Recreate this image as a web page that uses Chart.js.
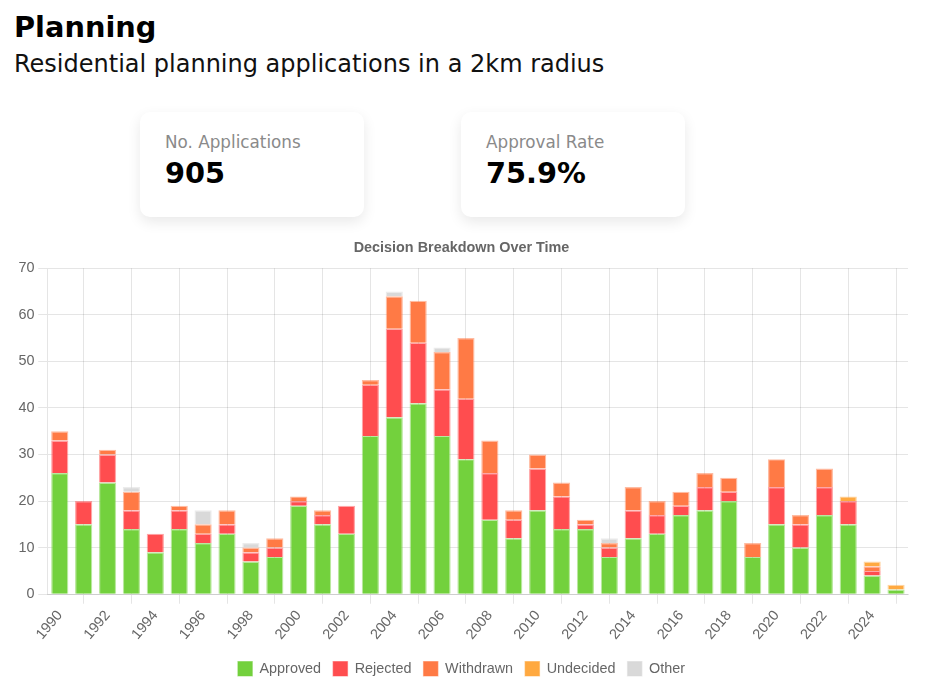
<!DOCTYPE html>
<html>
<head>
<meta charset="utf-8">
<script src="https://cdn.jsdelivr.net/npm/chart.js@4.4.1/dist/chart.umd.min.js"></script>
<style>
  html, body { margin: 0; padding: 0; background: #fff; width: 932px; height: 679px; overflow: hidden; }
  body { font-family: "DejaVu Sans", sans-serif; position: relative; }
  .h1 { position: absolute; left: 14px; top: 12.6px; margin: 0; font-size: 28.8px; line-height: 28.8px; font-weight: bold; color: #000; white-space: nowrap; }
  .sub { position: absolute; left: 14px; top: 51.7px; margin: 0; font-size: 24px; line-height: 24px; color: #111; white-space: nowrap; }
  .card { position: absolute; top: 112px; width: 224px; height: 105px; background: #fff; border-radius: 10px;
          box-shadow: 0 5px 14px rgba(0,0,0,0.09); }
  .card .lbl { position: absolute; left: 25px; top: 21.8px; font-size: 16.8px; line-height: 16.8px; color: #8a8a8a; white-space: nowrap; }
  .card .val { position: absolute; left: 25px; top: 46.6px; font-size: 28.8px; line-height: 28.8px; font-weight: bold; color: #000; white-space: nowrap; }
  #wrap { position: absolute; left: 6px; top: 227px; width: 912px; height: 459px; }
</style>
</head>
<body>
<div class="h1">Planning</div>
<div class="sub">Residential planning applications in a 2km radius</div>
<div class="card" style="left:140px"><div class="lbl">No. Applications</div><div class="val">905</div></div>
<div class="card" style="left:461px"><div class="lbl">Approval Rate</div><div class="val">75.9%</div></div>
<div id="wrap"><canvas id="c"></canvas></div>
<script>
const years = ["1990","1991","1992","1993","1994","1995","1996","1997","1998","1999",
  "2000","2001","2002","2003","2004","2005","2006","2007","2008","2009",
  "2010","2011","2012","2013","2014","2015","2016","2017","2018","2019",
  "2020","2021","2022","2023","2024","2025"];
const approved  = [26,15,24,14,9,14,11,13,7,8,19,15,13,34,38,41,34,29,16,12,18,14,14,8,12,13,17,18,20,8,15,10,17,15,4,1];
const rejected  = [7,5,6,4,4,4,2,2,2,2,1,2,6,11,19,13,10,13,10,4,9,7,1,2,6,4,2,5,2,0,8,5,6,5,1,0];
const withdrawn = [2,0,1,4,0,1,2,3,1,2,1,1,0,1,7,9,8,13,7,2,3,3,1,1,5,3,3,3,3,3,6,2,4,0,1,0];
const undecided = [0,0,0,0,0,0,0,0,0,0,0,0,0,0,0,0,0,0,0,0,0,0,0,0,0,0,0,0,0,0,0,0,0,1,1,1];
const other     = [0,0,0,1,0,0,3,0,1,0,0,0,0,0,1,0,1,0,0,0,0,0,0,1,0,0,0,0,0,0,0,0,0,0,0,0];

const S = 1.2;
const FONT = "'Liberation Sans', Arial, Helvetica, sans-serif";
Chart.defaults.font.family = FONT;
Chart.defaults.font.size = 12 * S;
Chart.defaults.color = '#666';

function ds(label, data, color) {
  return { label, data, backgroundColor: color, borderColor: color + '80', borderWidth: 1.2, stack: 's' };
}

new Chart(document.getElementById('c'), {
  type: 'bar',
  data: {
    labels: years,
    datasets: [
      ds('Approved', approved, '#73d13d'),
      ds('Rejected', rejected, '#ff4d4f'),
      ds('Withdrawn', withdrawn, '#ff7a45'),
      ds('Undecided', undecided, '#ffa940'),
      ds('Other', other, '#d9d9d9')
    ]
  },
  options: {
    responsive: true,
    maintainAspectRatio: false,
    animation: false,
    layout: { padding: { left: 9, right: 10, top: 0, bottom: 0 } },
    plugins: {
      title: { display: true, text: 'Decision Breakdown Over Time', font: { size: 12 * S, weight: 'bold' }, padding: 10 * S, color: '#666' },
      legend: { position: 'bottom', labels: { boxWidth: 12 * S, boxHeight: 12 * S, padding: 10 * S } },
      tooltip: { enabled: false }
    },
    scales: {
      x: { stacked: true, grid: { tickLength: 8 * S }, ticks: { padding: 3 * S },
           afterFit: (s) => { s.height += 3; } },
      y: { stacked: true, min: 0, max: 70, ticks: { stepSize: 10, padding: 3 * S }, grid: { tickLength: 8 * S } }
    }
  }
});
</script>
</body>
</html>
